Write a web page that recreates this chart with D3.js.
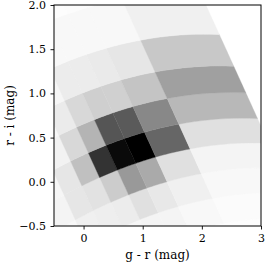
<!DOCTYPE html>
<html>
<head>
<meta charset="utf-8">
<script src="https://cdn.jsdelivr.net/npm/d3@7"></script>
<style>
  body { margin: 0; background: #fff; }
  svg { display: block; }
  .axis text { font-family: "DejaVu Serif", serif; font-size: 11px; fill: #000; }
  .axis line { stroke: #000; stroke-width: 0.9; }
  .axis-label { font-family: "DejaVu Serif", serif; font-size: 12px; fill: #000; }
</style>
</head>
<body>
<svg id="chart"></svg>
<script>
// bin edges along the two curved grid directions (u runs along the arcs, v across them)
const uEdges = [-0.63, -0.33, -0.03, 0.27, 0.57, 0.87, 1.18, 1.52, 2.10, 3.43];
const vEdges = [-0.68, -0.40, -0.12, 0.16, 0.44, 0.72, 1.01, 1.31, 1.67, 2.13, 2.60];

// counts per bin: one row per v bin (bottom to top), one value per u bin
const counts = [
    [0, 1, 2, 2, 3, 3, 3, 2, 2],
    [1, 4, 6, 8, 9, 11, 11, 7, 4],
    [2, 7, 15, 17, 19, 31, 23, 15, 7],
    [3, 11, 25, 29, 51, 102, 85, 31, 11],
    [2, 9, 25, 63, 204, 245, 255, 153, 31],
    [1, 5, 13, 39, 75, 170, 165, 119, 71],
    [0, 3, 7, 20, 39, 48, 47, 59, 95],
    [0, 1, 3, 9, 19, 19, 21, 25, 55],
    [0, 0, 1, 3, 7, 7, 7, 7, 15],
    [0, 0, 0, 1, 1, 2, 3, 3, 1]
];

const xTicks = [0, 1, 2, 3];
const yTicks = [-0.5, 0.0, 0.5, 1.0, 1.5, 2.0];

// grid (u, v) -> (g - r, r - i)
const shear = 0.68, bend = 0.057, uPeak = 3.19;
function toColors(u, v) {
    return [u - shear * v, v - bend * (u - uPeak) * (u - uPeak)];
}

const config = {
    width: 266,
    height: 266,
    margin: {top: 5, right: 5, bottom: 40, left: 54}
};

const width = config.width - config.margin.left - config.margin.right;
const height = config.height - config.margin.top - config.margin.bottom;

const svg = d3.select('#chart')
    .attr('width', config.width)
    .attr('height', config.height);

const chart = svg.append('g')
    .attr('transform', `translate(${config.margin.left},${config.margin.top})`);

const xScale = d3.scaleLinear().domain([-0.5, 3]).range([0, width]);
const yScale = d3.scaleLinear().domain([-0.5, 2]).range([height, 0]);

const colorScale = d3.scaleLinear()
    .domain([0, d3.max(counts.flat())])
    .range(['#ffffff', '#000000']);

chart.append('clipPath')
    .attr('id', 'plot-clip')
    .append('rect')
    .attr('width', width)
    .attr('height', height);

// build one polygon per bin, sampling the curved edges
const steps = 10;
const cells = [];
counts.forEach((row, j) => {
    row.forEach((count, i) => {
        const u0 = uEdges[i], u1 = uEdges[i + 1];
        const v0 = vEdges[j], v1 = vEdges[j + 1];
        const pts = [];
        for (let s = 0; s <= steps; s++) pts.push(toColors(u0 + (u1 - u0) * s / steps, v0));
        for (let s = 1; s <= steps; s++) pts.push(toColors(u1, v0 + (v1 - v0) * s / steps));
        for (let s = steps - 1; s >= 0; s--) pts.push(toColors(u0 + (u1 - u0) * s / steps, v1));
        for (let s = steps - 1; s > 0; s--) pts.push(toColors(u0, v0 + (v1 - v0) * s / steps));
        cells.push({count, pts});
    });
});

const line = d3.line()
    .x(d => xScale(d[0]))
    .y(d => yScale(d[1]));

chart.append('g')
    .attr('clip-path', 'url(#plot-clip)')
    .selectAll('.cell')
    .data(cells)
    .join('path')
    .attr('class', 'cell')
    .attr('d', d => line(d.pts) + 'Z')
    .attr('fill', d => colorScale(d.count))
    .attr('stroke', d => colorScale(d.count))
    .attr('stroke-width', 0.4);

const xAxis = d3.axisBottom(xScale)
    .tickValues(xTicks)
    .tickFormat(d3.format('d'))
    .tickSize(3.5)
    .tickPadding(4.5)
    .tickSizeOuter(0);

const yAxis = d3.axisLeft(yScale)
    .tickValues(yTicks)
    .tickFormat(d3.format('.1f'))
    .tickSize(3.5)
    .tickPadding(4.5)
    .tickSizeOuter(0);

chart.append('g')
    .attr('class', 'axis x-axis')
    .attr('transform', `translate(0,${height})`)
    .call(xAxis)
    .call(g => g.select('.domain').remove());

chart.append('g')
    .attr('class', 'axis y-axis')
    .call(yAxis)
    .call(g => g.select('.domain').remove());

// frame
chart.append('rect')
    .attr('width', width)
    .attr('height', height)
    .attr('fill', 'none')
    .attr('stroke', '#000')
    .attr('stroke-width', 1);

chart.append('text')
    .attr('class', 'axis-label')
    .attr('x', width / 2)
    .attr('y', height + 33)
    .attr('text-anchor', 'middle')
    .text('g - r (mag)');

chart.append('text')
    .attr('class', 'axis-label')
    .attr('transform', `translate(${-40},${height / 2}) rotate(-90)`)
    .attr('text-anchor', 'middle')
    .text('r - i (mag)');
</script>
</body>
</html>
